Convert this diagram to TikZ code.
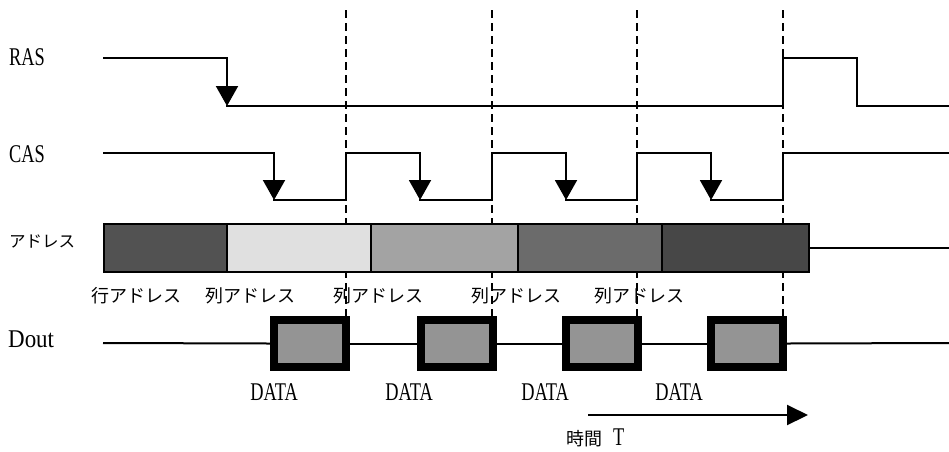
\documentclass[tikz,border=0pt]{standalone}
\usepackage{fontspec}
\setmainfont{Liberation Serif}[FakeStretch=0.72]
\newfontfamily\widefont{Liberation Serif}[FakeStretch=0.9]
\newfontfamily\jpfont{Noto Sans CJK JP}
\usetikzlibrary{arrows.meta}

\begin{document}
\begin{tikzpicture}[x=1pt,y=-1pt,
  sig/.style={line width=2pt,line cap=rect},
  edgearrow/.style={line width=2pt,line cap=rect,-{Triangle[width=22pt,length=20pt]}},
  guide/.style={line width=1.4pt,dash pattern=on 8pt off 5pt},
  addr/.style={draw,line width=2pt,minimum height=48pt,inner sep=0pt},
  databox/.style={draw,line width=8pt,fill=black!42,minimum width=72pt,minimum height=47pt,inner sep=0pt},
  lbl/.style={font=\fontsize{25.5}{28}\selectfont,inner sep=0pt},
  jlbl/.style={font=\jpfont\fontsize{18}{20}\selectfont,inner sep=0pt,anchor=west},
]
\useasboundingbox (0,0) rectangle (949,451);

% timing guides
\foreach \gx in {346,492,637,783}
  \draw[guide] (\gx,10) -- (\gx,316);

% signal names
\node[lbl,anchor=west] (lras) at (9,57) {RAS};
\node[lbl,anchor=west] (lcas) at (9,154) {CAS};
\node[font=\jpfont\fontsize{16.5}{19}\selectfont,inner sep=0pt,anchor=west] (laddr) at (9,241) {アドレス};
\node[lbl,anchor=west,font=\widefont\fontsize{25.5}{28}\selectfont] (ldout) at (8,339) {Dout};

% RAS
\coordinate (r0) at (104,58);
\coordinate (r1) at (227,58);
\coordinate (r2) at (227,106);
\coordinate (r3) at (783,106);
\coordinate (r4) at (783,58);
\coordinate (r5) at (857,58);
\coordinate (r6) at (857,106);
\coordinate (r7) at (949,106);
\draw[sig] (r0) -- (r1);
\draw[edgearrow] (r1) -- (r2);
\draw[sig] (r2) -- (r3) -- (r4) -- (r5) -- (r6) -- (r7);

% CAS
\coordinate (c0) at (104,153);
\draw[sig] (c0) -- (274,153);
\foreach \fall/\rise/\next in {274/346/420, 420/492/566, 566/637/711, 711/783/949}{
  \draw[edgearrow] (\fall,153) -- (\fall,200);
  \draw[sig] (\fall,200) -- (\rise,200) -- (\rise,153) -- (\next,153);
}

% address bus
\node[addr,fill=black!68,minimum width=123pt] (a1) at (165.5,248) {};
\node[addr,fill=black!12,minimum width=144pt] (a2) at (299,248) {};
\node[addr,fill=black!36,minimum width=147pt] (a3) at (444.5,248) {};
\node[addr,fill=black!58,minimum width=144pt] (a4) at (590,248) {};
\node[addr,fill=black!72,minimum width=147pt] (a5) at (735.5,248) {};
\coordinate (aend) at (949,248);
\draw[sig] (a5.east) -- (aend);

\node[jlbl] (t1) at (91,296) {行アドレス};
\node[jlbl] (t2) at (205,296) {列アドレス};
\node[jlbl] (t3) at (333,296) {列アドレス};
\node[jlbl] (t4) at (471,296) {列アドレス};
\node[jlbl] (t5) at (594,296) {列アドレス};

% data output
\node[databox] (d1) at (310,343.5) {};
\node[databox] (d2) at (456.5,343.5) {};
\node[databox] (d3) at (602,343.5) {};
\node[databox] (d4) at (747,343.5) {};
\coordinate (dstart) at (104,343);
\coordinate (dend) at (949,343);
\draw[sig] (dstart) -- (d1.west);
\draw[sig] (d1.east) -- (d2.west);
\draw[sig] (d2.east) -- (d3.west);
\draw[sig] (d3.east) -- (d4.west);
\draw[sig] (d4.east) -- (dend);

\node[lbl] (x1) at (274,392) {DATA};
\node[lbl] (x2) at (409,392) {DATA};
\node[lbl] (x3) at (545,392) {DATA};
\node[lbl] (x4) at (679,392) {DATA};

% time axis
\coordinate (ts) at (588,415);
\coordinate (te) at (808,415);
\draw[line width=2pt,-{Triangle[width=20pt,length=21pt]}] (ts) -- (te);
\node[inner sep=0pt,anchor=west] (tlabel) at (566,438)
  {{\jpfont\fontsize{18}{20}\selectfont 時間}\hspace{11pt}{\fontsize{25.5}{28}\selectfont T}};
\end{tikzpicture}
\end{document}
